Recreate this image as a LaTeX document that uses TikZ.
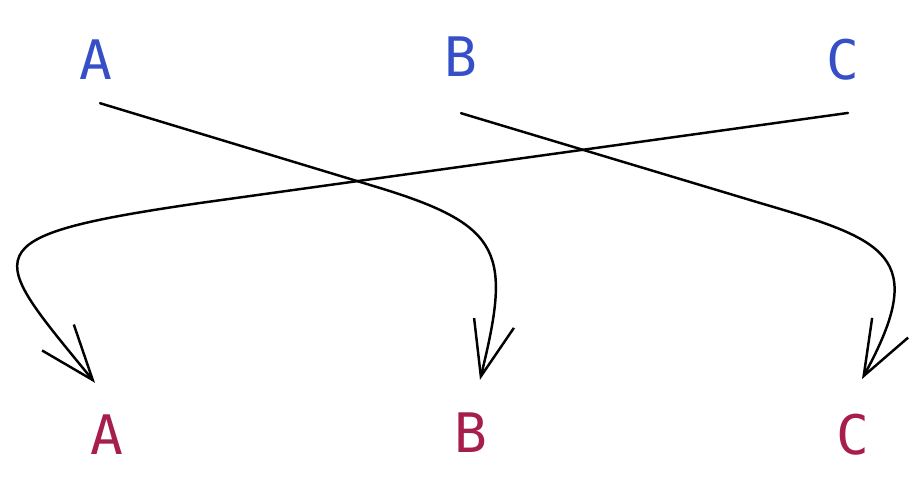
\documentclass[tikz,border=0pt]{standalone}
\usepackage{fontspec}
\setmonofont{DejaVu Sans Mono}
\usetikzlibrary{arrows.meta}
\definecolor{topblue}{HTML}{364FC7}
\definecolor{botred}{HTML}{A61E4D}

\begin{document}
\begin{tikzpicture}[
  x=0.02cm, y=-0.02cm,
  lbltop/.style={font=\ttfamily\fontsize{31}{36}\selectfont, text=topblue, inner sep=0pt},
  lblbot/.style={font=\ttfamily\fontsize{31}{36}\selectfont, text=botred, inner sep=0pt},
  arr/.style={line width=1.4pt, line cap=round, line join=round, -{Straight Barb[length=1.1cm, width=0.82cm]}}
]
\useasboundingbox (0,0) rectangle (916,489);

% ---- Top row ----
\node[lbltop] (topA) at (96,60) {A};
\node[lbltop] (topB) at (461,57) {B};
\node[lbltop] (topC) at (843,60) {C};

% ---- Bottom row ----
\node[lblbot] (botA) at (107,435) {A};
\node[lblbot] (botB) at (471,433) {B};
\node[lblbot] (botC) at (853,435) {C};

% ---- Arrows ----
\draw[arr] ([shift={(0.08cm,-0.46cm)}]topA.south) -- (380,188) .. controls (504,226) and (511,254) .. ([shift={(0.18cm,0.66cm)}]botB.north);
\draw[arr] ([shift={(0cm,-0.72cm)}]topB.south) -- (760,203) .. controls (886,240) and (930,255) .. ([shift={(0.18cm,0.7cm)}]botC.north);
\draw[arr] ([shift={(0.1cm,-0.64cm)}]topC.south) -- (200,203) .. controls (-34,237) and (-12,252) .. ([shift={(-0.24cm,0.64cm)}]botA.north);

\end{tikzpicture}
\end{document}
